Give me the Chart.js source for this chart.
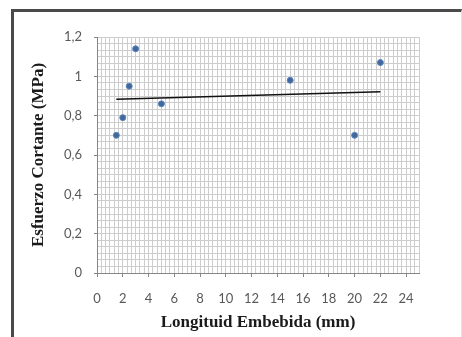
<!DOCTYPE html>
<html>
<head>
<meta charset="utf-8">
<script src="https://cdn.jsdelivr.net/npm/chart.js@4"></script>
<style>
  html, body { margin: 0; padding: 0; background: #fff; }
  #wrap { position: relative; width: 462px; height: 337px; overflow: hidden; }
  #frame {
    position: absolute; left: 11px; top: 9px; width: 447px; height: 330px;
    border-left: 3px solid #4a4a4a; border-top: 3px solid #4a4a4a;
    border-right: 1px solid #e2e2e2;
  }
  canvas { position: absolute; left: 0; top: 0; }
</style>
</head>
<body>
<div id="wrap">
  <div id="frame"></div>
  <canvas id="chart" width="462" height="337"></canvas>
</div>
<script>
// longitud embebida (mm) y esfuerzo cortante (MPa)
const lengthMm = [1.5, 2, 2.5, 3, 5, 15, 20, 22];
const stressMPa = [0.70, 0.79, 0.95, 1.14, 0.86, 0.98, 0.70, 1.07];

// linea de tendencia (extremos)
const trendX = [1.5, 22];
const trendY = [0.883, 0.921];

const xTickLabels = ["0", "2", "4", "6", "8", "10", "12", "14", "16", "18", "20", "22", "24"];
const yTickLabels = ["0", "0,2", "0,4", "0,6", "0,8", "1", "1,2"];

const points = lengthMm.map((x, i) => ({x: x, y: stressMPa[i]}));
const trend = trendX.map((x, i) => ({x: x, y: trendY[i]}));

const tickFont = {family: "Lato", size: 13};
const titleFont = {family: "Liberation Serif", size: 17, weight: "bold"};

const ctx = document.getElementById("chart").getContext("2d");
new Chart(ctx, {
  type: "scatter",
  data: {
    datasets: [
      {
        label: "datos",
        data: points,
        pointStyle: "circle",
        pointRadius: 3,
        backgroundColor: "#41679c",
        borderColor: "#5b87c0",
        borderWidth: 1,
      },
      {
        type: "line",
        label: "tendencia",
        data: trend,
        borderColor: "#111",
        borderWidth: 1.5,
        pointRadius: 0,
        fill: false,
      },
    ],
  },
  options: {
    responsive: false,
    animation: false,
    layout: {padding: {left: 0, right: 43, top: 37, bottom: 0}},
    plugins: {legend: {display: false}, tooltip: {enabled: false}},
    scales: {
      x: {
        type: "linear",
        min: 0,
        max: 25,
        afterBuildTicks: (scale) => {
          const t = [];
          for (let i = 0; i <= 75; i++) t.push({value: i / 3});
          scale.ticks = t;
        },
        afterFit: (scale) => { scale.height = 64; },
        ticks: {
          autoSkip: false,
          maxRotation: 0,
          padding: 14,
          color: "#595959",
          font: tickFont,
          callback: (v, i) => (i % 6 === 0 ? xTickLabels[i / 6] : ""),
        },
        grid: {
          color: "#cdcdcd",
          tickLength: 4,
          tickColor: (c) => (c.index % 6 === 0 ? "#868686" : "rgba(0,0,0,0)"),
        },
        border: {color: "#868686"},
        title: {
          display: true,
          text: "Longituid Embebida (mm)",
          color: "#1a1a1a",
          font: titleFont,
          padding: {top: 0, bottom: 4},
        },
      },
      y: {
        min: 0,
        max: 1.2,
        afterBuildTicks: (scale) => {
          const t = [];
          for (let i = 0; i <= 36; i++) t.push({value: i / 30});
          scale.ticks = t;
        },
        afterFit: (scale) => { scale.width = 97; },
        ticks: {
          autoSkip: false,
          padding: 12,
          color: "#595959",
          font: tickFont,
          callback: (v, i) => (i % 6 === 0 ? yTickLabels[i / 6] : ""),
        },
        grid: {
          color: "#cdcdcd",
          tickLength: 3,
          tickColor: (c) => (c.index % 6 === 0 ? "#868686" : "rgba(0,0,0,0)"),
        },
        border: {color: "#868686"},
        title: {
          display: true,
          text: "Esfuerzo Cortante (MPa)",
          color: "#1a1a1a",
          font: titleFont,
          padding: {top: 28, bottom: 0},
        },
      },
    },
  },
});
</script>
</body>
</html>
